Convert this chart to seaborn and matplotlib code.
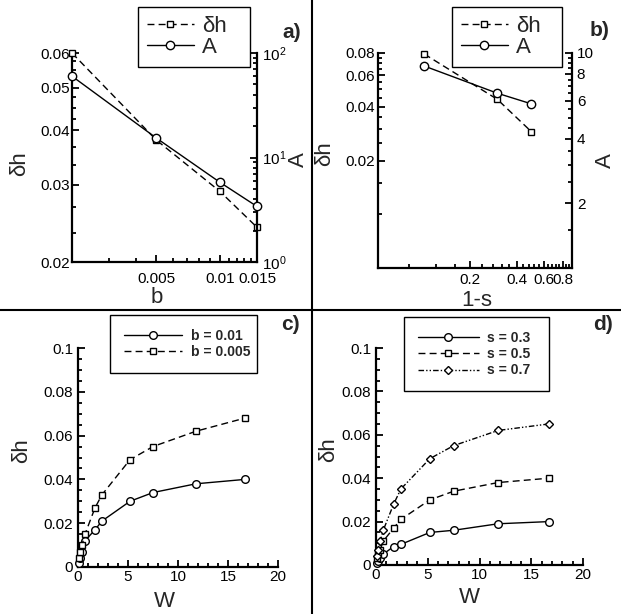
import numpy as np
import pandas as pd
import matplotlib
matplotlib.use("Agg")
import matplotlib.pyplot as plt
import seaborn as sns
from matplotlib.ticker import FixedLocator, FixedFormatter, NullFormatter, MultipleLocator, LogLocator, LogFormatterSciNotation
from matplotlib.lines import Line2D

# ---------------- data ----------------
b_vals = [0.002, 0.005, 0.01, 0.015]
dh_vs_b = [0.060, 0.038, 0.029, 0.024]
A_vs_b = [60.0, 15.4, 5.8, 3.4]

one_minus_s = [0.1, 0.3, 0.5]
dh_vs_s = [0.079, 0.044, 0.029]
A_vs_s = [8.7, 6.5, 5.8]

W = [0.1, 0.2, 0.4, 0.7, 1.7, 2.4, 5.2, 7.5, 11.8, 16.7]
dh_b001 = [0.002, 0.004, 0.007, 0.012, 0.017, 0.021, 0.030, 0.034, 0.038, 0.040]
dh_b0005 = [0.004, 0.007, 0.010, 0.015, 0.027, 0.033, 0.049, 0.055, 0.062, 0.068]

dh_s03 = [0.001, 0.002, 0.003, 0.005, 0.0085, 0.0095, 0.015, 0.016, 0.019, 0.020]
dh_s05 = [0.003, 0.005, 0.007, 0.011, 0.017, 0.021, 0.030, 0.034, 0.038, 0.040]
dh_s07 = [0.004, 0.007, 0.011, 0.016, 0.028, 0.035, 0.049, 0.055, 0.062, 0.065]

# ---------------- style ----------------
sns.set_style("ticks")
plt.rcParams['font.family'] = ['Liberation Sans', 'DejaVu Sans']
plt.rcParams['mathtext.fontset'] = 'custom'
plt.rcParams['mathtext.rm'] = 'Liberation Sans'
plt.rcParams['axes.linewidth'] = 1.6

W_PX, H_PX = 621, 614
fig = plt.figure(figsize=(W_PX / 100, H_PX / 100), dpi=100)


def rect(l, r, t, b):
    return [l / W_PX, 1 - b / H_PX, (r - l) / W_PX, (b - t) / H_PX]


TICK_FS = 11
LAB_FS = 16


def style_ax(ax):
    ax.tick_params(which='both', direction='in', labelsize=TICK_FS, width=1.3, colors='k')
    ax.tick_params(which='major', length=5)
    ax.tick_params(which='minor', length=3)
    for sp in ax.spines.values():
        sp.set_linewidth(1.6)
        sp.set_color('k')


def plot_series(ax, x, y, marker, ls, ms, label):
    df = pd.DataFrame({'x': x, 'y': y})
    sns.lineplot(data=df, x='x', y='y', ax=ax, color='k', marker=marker,
                 markersize=ms, markerfacecolor='white', markeredgecolor='k',
                 markeredgewidth=1.0, linestyle=ls, linewidth=1.0,
                 label=label, legend=False, sort=False, clip_on=False, zorder=5)


DASH = (0, (5, 3))
DASHDOT = (0, (4, 1.5, 1, 1.5, 1, 1.5))


def make_legend(handles, labels, l, r, t, fs, weight, hl, ls, bp, htp):
    leg = fig.legend(handles, labels, loc='upper left',
                     bbox_to_anchor=(l / W_PX, 1 - t / H_PX, (r - l) / W_PX, 0.001),
                     mode='expand', prop={'size': fs, 'weight': weight},
                     frameon=True, fancybox=False, edgecolor='k', framealpha=1,
                     handlelength=hl, labelspacing=ls, borderpad=bp,
                     handletextpad=htp, borderaxespad=0)
    leg.get_frame().set_linewidth(1.0)
    return leg


# ---------------- panel a ----------------
axa = fig.add_axes(rect(72, 257, 53, 262))
axa2 = axa.twinx()
axa2.set_position(axa.get_position())
plot_series(axa, b_vals, dh_vs_b, 's', DASH, 4, 'δh')
plot_series(axa2, b_vals, A_vs_b, 'o', '-', 6, 'A')
for ax in (axa, axa2):
    ax.set_xscale('log')
    ax.set_xlim(0.002, 0.015)
axa.set_yscale('log')
axa.set_ylim(0.02, 0.06)
axa2.set_yscale('log')
axa2.set_ylim(1, 100)
axa.xaxis.set_major_locator(FixedLocator([0.005, 0.01, 0.015]))
axa.xaxis.set_major_formatter(FixedFormatter(['0.005', '0.01', '0.015']))
axa.xaxis.set_minor_locator(FixedLocator([0.003, 0.004, 0.006, 0.007, 0.008, 0.009,
                                          0.011, 0.012, 0.013, 0.014]))
axa.xaxis.set_minor_formatter(NullFormatter())
axa.yaxis.set_major_locator(FixedLocator([0.02, 0.03, 0.04, 0.05, 0.06]))
axa.yaxis.set_major_formatter(FixedFormatter(['0.02', '0.03', '0.04', '0.05', '0.06']))
axa.yaxis.set_minor_locator(FixedLocator([0.0233, 0.0267, 0.0333, 0.0367, 0.0425, 0.045,
                                          0.0475, 0.0525, 0.055, 0.0575]))
axa.yaxis.set_minor_formatter(NullFormatter())
axa2.yaxis.set_major_locator(LogLocator(base=10))
axa2.yaxis.set_major_formatter(LogFormatterSciNotation())
axa2.yaxis.set_minor_locator(LogLocator(base=10, subs=np.arange(2, 10)))
axa2.yaxis.set_minor_formatter(NullFormatter())
for ax in (axa, axa2):
    style_ax(ax)
    ax.spines['top'].set_visible(False)
axa.spines['right'].set_visible(False)
axa2.spines['left'].set_visible(False)
axa2.spines['bottom'].set_visible(False)
axa.tick_params(axis='x', which='major', pad=7)
axa.tick_params(axis='y', which='major', pad=1.5)
axa.set_xlabel('b', fontsize=LAB_FS)
axa.set_ylabel('δh', fontsize=LAB_FS)
axa2.set_ylabel('A', fontsize=LAB_FS, rotation=90)
axa.xaxis.set_label_coords(0.46, -0.12)
axa.yaxis.set_label_coords(-0.225, 0.47)
axa2.yaxis.set_label_coords(1.165, 0.49)
h1, l1 = axa.get_legend_handles_labels()
h2, l2 = axa2.get_legend_handles_labels()
make_legend(h1 + h2, l1 + l2, 138, 250, 8, LAB_FS, 'normal', 2.1, 0.0, 0.4, 0.4)

# ---------------- panel b ----------------
axb = fig.add_axes(rect(378, 572, 53, 268))
axb2 = axb.twinx()
axb2.set_position(axb.get_position())
plot_series(axb, one_minus_s, dh_vs_s, 's', DASH, 4, 'δh')
plot_series(axb2, one_minus_s, A_vs_s, 'o', '-', 6, 'A')
for ax in (axb, axb2):
    ax.set_xscale('log')
    ax.set_xlim(0.05, 0.92)
axb.set_yscale('log')
axb.set_ylim(0.005, 0.08)
axb2.set_yscale('log')
axb2.set_ylim(1, 10)
axb.xaxis.set_major_locator(FixedLocator([0.2, 0.4, 0.6, 0.8]))
axb.xaxis.set_major_formatter(FixedFormatter(['0.2', '0.4', '0.6', '0.8']))
minor_x = [round(0.04 * k, 2) for k in range(2, 23) if k not in (5, 10, 15, 20)]
axb.xaxis.set_minor_locator(FixedLocator(minor_x))
axb.xaxis.set_minor_formatter(NullFormatter())
axb.yaxis.set_major_locator(FixedLocator([0.02, 0.04, 0.06, 0.08]))
axb.yaxis.set_major_formatter(FixedFormatter(['0.02', '0.04', '0.06', '0.08']))
axb.yaxis.set_minor_locator(FixedLocator([0.01, 0.015, 0.025, 0.03, 0.035, 0.045, 0.05,
                                          0.055, 0.065, 0.07, 0.075]))
axb.yaxis.set_minor_formatter(NullFormatter())
axb2.yaxis.set_major_locator(FixedLocator([2, 4, 6, 8, 10]))
axb2.yaxis.set_major_formatter(FixedFormatter(['2', '4', '6', '8', '10']))
axb2.yaxis.set_minor_locator(FixedLocator([1.5, 2.5, 3, 3.5, 4.5, 5, 5.5, 6.5, 7, 7.5,
                                           8.5, 9, 9.5]))
axb2.yaxis.set_minor_formatter(NullFormatter())
for ax in (axb, axb2):
    style_ax(ax)
    ax.spines['top'].set_visible(False)
axb.spines['right'].set_visible(False)
axb2.spines['left'].set_visible(False)
axb2.spines['bottom'].set_visible(False)
axb.tick_params(axis='y', which='major', pad=2)
axb.set_xlabel('1-s', fontsize=LAB_FS)
axb.set_ylabel('δh', fontsize=LAB_FS)
axb2.set_ylabel('A', fontsize=LAB_FS, rotation=90)
axb.xaxis.set_label_coords(0.51, -0.10)
axb.yaxis.set_label_coords(-0.22, 0.53)
axb2.yaxis.set_label_coords(1.12, 0.50)
h1, l1 = axb.get_legend_handles_labels()
h2, l2 = axb2.get_legend_handles_labels()
make_legend(h1 + h2, l1 + l2, 452, 562, 8, LAB_FS, 'normal', 2.1, 0.0, 0.4, 0.4)


# ---------------- panels c, d ----------------
def style_lin(ax):
    ax.set_xlim(0, 20)
    ax.set_ylim(0, 0.1)
    ax.xaxis.set_major_locator(MultipleLocator(5))
    ax.xaxis.set_minor_locator(MultipleLocator(1))
    ax.yaxis.set_major_locator(MultipleLocator(0.02))
    ax.yaxis.set_minor_locator(MultipleLocator(0.005))
    ax.yaxis.set_major_formatter(matplotlib.ticker.FuncFormatter(
        lambda v, p: '0' if abs(v) < 1e-12 else ('%g' % round(v, 3))))
    style_ax(ax)
    ax.tick_params(axis='x', which='major', pad=2)
    ax.spines['top'].set_visible(False)
    ax.spines['right'].set_visible(False)
    ax.set_xlabel('W', fontsize=LAB_FS)
    ax.set_ylabel('δh', fontsize=LAB_FS)


axc = fig.add_axes(rect(78, 278, 348, 567))
plot_series(axc, W, dh_b001, 'o', '-', 5.5, 'b = 0.01')
plot_series(axc, W, dh_b0005, 's', DASH, 4, 'b = 0.005')
style_lin(axc)
axc.xaxis.set_label_coords(0.43, -0.11)
axc.yaxis.set_label_coords(-0.23, 0.53)
h, l = axc.get_legend_handles_labels()
make_legend(h, l, 110, 257, 316, 10, 'bold', 4.2, 0.15, 1.0, 0.6)

axd = fig.add_axes(rect(376, 583, 348, 565))
plot_series(axd, W, dh_s03, 'o', '-', 5.5, 's = 0.3')
plot_series(axd, W, dh_s05, 's', DASH, 4, 's = 0.5')
plot_series(axd, W, dh_s07, 'D', DASHDOT, 4.5, 's = 0.7')
style_lin(axd)
axd.xaxis.set_label_coords(0.45, -0.10)
axd.yaxis.set_label_coords(-0.18, 0.53)
h, l = axd.get_legend_handles_labels()
make_legend(h, l, 404, 549, 318, 10, 'bold', 4.4, 0.15, 1.0, 0.6)

# ---------------- panel labels & dividers ----------------
for txt, x, y in [('a)', 292, 32), ('b)', 600, 30), ('c)', 290, 324), ('d)', 603, 324)]:
    fig.text(x / W_PX, 1 - y / H_PX, txt, fontsize=15, fontweight='bold',
             ha='center', va='center')

fig.add_artist(Line2D([312 / W_PX, 312 / W_PX], [0, 1], color='k', lw=1.5))
fig.add_artist(Line2D([0, 1], [1 - 310 / H_PX, 1 - 310 / H_PX], color='k', lw=1.5))

fig.savefig('out.png', dpi=100)
